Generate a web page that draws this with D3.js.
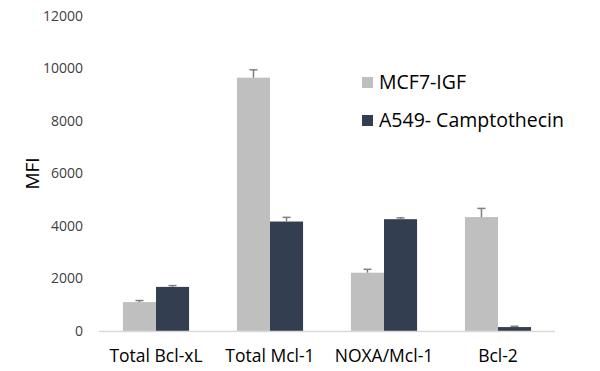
<!DOCTYPE html>
<html>
<head>
<meta charset="utf-8">
<script src="https://cdn.jsdelivr.net/npm/d3@7"></script>
<style>
  body { margin: 0; background: #fff; }
  text { font-family: "Open Sans", sans-serif; }
</style>
</head>
<body>
<div id="chart"></div>
<script>
// chart data
var categories = ["Total Bcl-xL", "Total Mcl-1", "NOXA/Mcl-1", "Bcl-2"];
var seriesNames = ["MCF7-IGF", "A549- Camptothecin"];
var mcf7Values = [1100, 9650, 2220, 4340];
var mcf7Errors = [60, 300, 130, 330];
var a549Values = [1680, 4170, 4260, 150];
var a549Errors = [50, 160, 50, 30];
var yTicks = [0, 2000, 4000, 6000, 8000, 10000, 12000];

var colors = ["#bfbfbf", "#333f50"];

var svgWidth = 600;
var svgHeight = 371;

var margin = { top: 16, right: 45, bottom: 40, left: 99 };
var width = svgWidth - margin.left - margin.right;
var height = svgHeight - margin.top - margin.bottom;

var svg = d3.select("#chart")
  .append("svg")
  .attr("width", svgWidth)
  .attr("height", svgHeight);

var chartGroup = svg.append("g")
  .attr("transform", `translate(${margin.left}, ${margin.top})`);

// scales
var x0 = d3.scaleBand()
  .domain(categories)
  .range([0, width])
  .paddingInner(0.42)
  .paddingOuter(0.21);

var x1 = d3.scaleBand()
  .domain(seriesNames)
  .range([0, x0.bandwidth()]);

var y = d3.scaleLinear()
  .domain([0, 12000])
  .range([height, 0]);

// y tick labels (no axis line)
var leftAxis = d3.axisLeft(y).tickValues(yTicks).tickSize(0).tickPadding(0).tickFormat(d3.format("d"));
var yAxis = chartGroup.append("g")
  .attr("transform", "translate(-16, 0)")
  .call(leftAxis);
yAxis.select(".domain").remove();
yAxis.selectAll("text")
  .attr("font-family", "Open Sans, sans-serif")
  .attr("font-size", "14px")
  .attr("fill", "#404040");

// bars
var rows = categories.map(function (c, i) {
  return [
    { cat: c, series: seriesNames[0], value: mcf7Values[i], err: mcf7Errors[i], color: colors[0] },
    { cat: c, series: seriesNames[1], value: a549Values[i], err: a549Errors[i], color: colors[1] }
  ];
});

var groups = chartGroup.selectAll(".group")
  .data(rows)
  .enter()
  .append("g")
  .attr("class", "group")
  .attr("transform", d => `translate(${x0(d[0].cat)}, 0)`);

groups.selectAll("rect")
  .data(d => d)
  .enter()
  .append("rect")
  .attr("x", d => x1(d.series))
  .attr("y", d => y(d.value))
  .attr("width", x1.bandwidth())
  .attr("height", d => height - y(d.value))
  .attr("fill", d => d.color);

// error bars
var errs = groups.selectAll(".err")
  .data(d => d)
  .enter()
  .append("g")
  .attr("class", "err")
  .attr("stroke", "#7f7f7f")
  .attr("stroke-width", 1.5);

errs.append("line")
  .attr("x1", d => x1(d.series) + x1.bandwidth() / 2)
  .attr("x2", d => x1(d.series) + x1.bandwidth() / 2)
  .attr("y1", d => y(d.value))
  .attr("y2", d => y(d.value + d.err));

errs.append("line")
  .attr("x1", d => x1(d.series) + x1.bandwidth() / 2 - 4)
  .attr("x2", d => x1(d.series) + x1.bandwidth() / 2 + 4)
  .attr("y1", d => y(d.value + d.err))
  .attr("y2", d => y(d.value + d.err));

// x axis line
chartGroup.append("line")
  .attr("x1", 0)
  .attr("x2", width)
  .attr("y1", height + 0.5)
  .attr("y2", height + 0.5)
  .attr("stroke", "#d9d9d9")
  .attr("stroke-width", 1.5);

// x labels
var bottomAxis = d3.axisBottom(x0).tickSize(0).tickPadding(0);
var xAxis = chartGroup.append("g")
  .attr("transform", `translate(0, ${height + 19})`)
  .call(bottomAxis);
xAxis.select(".domain").remove();
xAxis.selectAll("text")
  .attr("font-family", "Open Sans, sans-serif")
  .attr("font-size", "17.5px")
  .attr("fill", "#000");

// y label
chartGroup.append("text")
  .attr("transform", "rotate(-90)")
  .attr("x", -(y(6000)))
  .attr("y", -margin.left + 39)
  .attr("text-anchor", "middle")
  .attr("font-size", "19px")
  .attr("fill", "#000")
  .text("MFI");

// legend
var legend = svg.append("g")
  .attr("transform", "translate(362, 77)");

var legendItems = legend.selectAll(".leg")
  .data(seriesNames)
  .enter()
  .append("g")
  .attr("class", "leg")
  .attr("transform", (d, i) => `translate(0, ${i * 38})`);

legendItems.append("rect")
  .attr("width", 11)
  .attr("height", 11)
  .attr("fill", (d, i) => colors[i]);

legendItems.append("text")
  .attr("x", 17)
  .attr("y", 12)
  .attr("font-size", "19.5px")
  .attr("fill", "#000")
  .text(d => d);
</script>
</body>
</html>
